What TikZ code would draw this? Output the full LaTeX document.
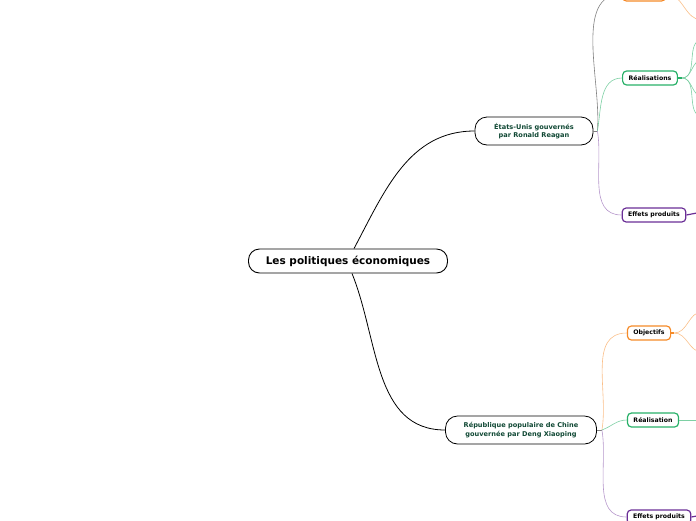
\documentclass[tikz,border=0pt]{standalone}
\usepackage{fontspec}
\setmainfont{DejaVu Sans}
\usepackage{tikz}
\usetikzlibrary{positioning}
\definecolor{objorange}{RGB}{245,138,40}
\definecolor{reagreen}{RGB}{40,176,104}
\definecolor{effpurple}{RGB}{106,46,150}
\definecolor{labgreen}{RGB}{16,72,52}
\tikzset{
  topic/.style={rectangle, draw, rounded corners=11pt, line width=0.9pt, minimum width=199pt, minimum height=24pt, font=\bfseries\fontsize{10.5}{12}\selectfont},
  country/.style={rectangle, draw, rounded corners=12pt, line width=0.8pt, align=center, text=labgreen, minimum height=28pt, font=\bfseries\fontsize{6.6}{8.6}\selectfont},
  leaf/.style={rectangle, rounded corners=4pt, line width=1.2pt, minimum height=14pt, inner xsep=6pt, font=\bfseries\fontsize{6.2}{7}\selectfont},
  objbox/.style={leaf, draw=objorange},
  reabox/.style={leaf, draw=reagreen},
  effbox/.style={leaf, draw=effpurple},
  mainlink/.style={line width=0.8pt},
  objlink/.style={draw=objorange!55, line width=0.6pt},
  realink/.style={draw=reagreen!60, line width=0.6pt},
  efflink/.style={draw=effpurple!50, line width=0.6pt},
}

\begin{document}
\begin{tikzpicture}[x=1pt, y=-1pt]
  \useasboundingbox (0,0) rectangle (696,520);
  \clip (0,0) rectangle (696,520);

  % central topic
  \node[topic] (root) at (348,261) {Les politiques économiques};

  % countries
  \node[country, minimum width=118pt] (usa) at (534,131) {États-Unis gouvernés\\par Ronald Reagan};
  \node[country, minimum width=151pt] (chn) at (521,430) {République populaire de Chine\\gouvernée par Deng Xiaoping};

  \draw[mainlink] ([xshift=6pt]root.north) to[out=62,in=180] (usa.west);
  \draw[mainlink] ([xshift=4pt]root.south) to[out=-68,in=180] (chn.west);

  % Reagan branches
  \node[objbox] (usaobj) at (644,-6) {Objectifs};
  \node[reabox] (usarea) at (650,78) {Réalisations};
  \node[effbox] (usaeff) at (654,215) {Effets produits};

  \coordinate (usaknot) at ([xshift=4pt]usa.east);
  \draw[line width=0.8pt, gray] (usa.east) -- (usaknot);
  \draw[gray, line width=0.6pt] (usaknot) to[out=85,in=180,looseness=0.9] (usaobj.west);
  \draw[realink] (usaknot) to[out=80,in=180] (usarea.west);
  \draw[efflink] (usaknot) to[out=-80,in=180] (usaeff.west);

  % China branches
  \node[objbox] (chnobj) at (649,333) {Objectifs};
  \node[reabox] (chnrea) at (653,420) {Réalisation};
  \node[effbox] (chneff) at (659,517) {Effets produits};

  \coordinate (chnknot) at ([xshift=5pt]chn.east);
  \draw[line width=0.8pt, gray] (chn.east) -- (chnknot);
  \draw[objlink] (chnknot) to[out=80,in=180] (chnobj.west);
  \draw[realink] (chnknot) to[out=20,in=180] (chnrea.west);
  \draw[efflink] (chnknot) to[out=-80,in=180] (chneff.west);

  % cut-off sub-branches
  \coordinate (o1) at (702,20);
  \draw[objlink] (usaobj.east) to[out=0,in=180] (o1);
  \foreach \yy in {40,60,96,116} {
    \coordinate (r\yy) at (702,\yy);
    \draw[realink] ([xshift=4pt]usarea.east) to[out=0,in=180] (r\yy);
  }
  \draw[reagreen, line width=1.2pt] (usarea.east) -- ([xshift=4pt]usarea.east);
  \coordinate (e1) at (702,212);
  \draw[effpurple, line width=1.2pt] (usaeff.east) -- (e1);

  \foreach \yy in {312,352} {
    \coordinate (c\yy) at (702,\yy);
    \draw[objlink] ([xshift=3pt]chnobj.east) to[out=0,in=180] (c\yy);
  }
  \draw[objorange, line width=1.2pt] (chnobj.east) -- ([xshift=3pt]chnobj.east);
  \coordinate (c2) at (702,420);
  \draw[realink] (chnrea.east) -- (c2);
  \coordinate (e2) at (702,515);
  \draw[effpurple, line width=1.2pt] (chneff.east) -- (e2);
\end{tikzpicture}
\end{document}
